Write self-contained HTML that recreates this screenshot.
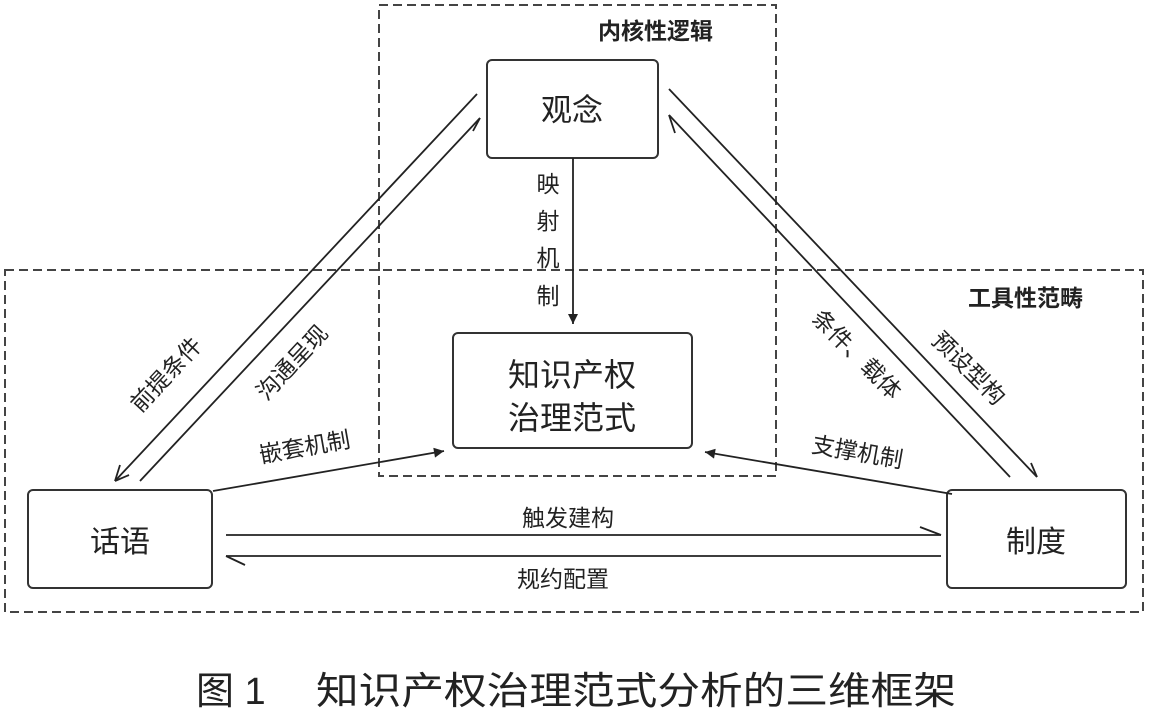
<!DOCTYPE html>
<html><head><meta charset="utf-8"><style>
html,body{margin:0;padding:0;background:#fff;}
svg text{font-family:"Liberation Sans","Noto Sans CJK SC",sans-serif;fill:#222;}
</style></head><body>
<svg width="1153" height="714" viewBox="0 0 1153 714" xmlns="http://www.w3.org/2000/svg">
<defs>
<marker id="fa" viewBox="0 0 10 10" refX="10" refY="5" markerWidth="14" markerHeight="10" markerUnits="userSpaceOnUse" orient="auto"><path d="M0,0 L10,5 L0,10 z" fill="#222"/></marker>
</defs>
<g fill="none" stroke="#444" stroke-width="2" stroke-dasharray="9,5">
<rect x="5" y="270" width="1138" height="342"/>
<rect x="379" y="5" width="397" height="471"/>
</g>
<text x="598" y="39" font-size="23" font-weight="bold">内核性逻辑</text>
<text x="968" y="306" font-size="23" font-weight="bold">工具性范畴</text>
<g fill="#fff" stroke="#333" stroke-width="2">
<rect x="487" y="60" width="171" height="98" rx="5"/>
<rect x="453" y="333" width="239" height="115" rx="5"/>
<rect x="28" y="490" width="184" height="98" rx="5"/>
<rect x="947" y="490" width="179" height="98" rx="5"/>
</g>
<text x="572" y="121" font-size="31" text-anchor="middle">观念</text>
<text x="572" y="386" font-size="32" text-anchor="middle">知识产权</text>
<text x="572" y="429" font-size="32" text-anchor="middle">治理范式</text>
<text x="120" y="552" font-size="30" text-anchor="middle">话语</text>
<text x="1036" y="552" font-size="30" text-anchor="middle">制度</text>
<g stroke="#222" stroke-width="1.8" fill="none">
<line x1="573" y1="158" x2="573" y2="324" marker-end="url(#fa)"/>
<line x1="213" y1="491" x2="444" y2="451" marker-end="url(#fa)"/>
<line x1="952" y1="494" x2="705" y2="452" marker-end="url(#fa)"/>
<line x1="477" y1="94" x2="115" y2="481"/>
<path d="M115,481 L120,465 M115,481 L129,475"/>
<line x1="140" y1="481" x2="480" y2="118"/>
<path d="M480,118 L473,131"/>
<line x1="669" y1="89" x2="1037" y2="477"/>
<path d="M1037,477 L1031,463"/>
<line x1="1010" y1="477" x2="669" y2="115"/>
<path d="M669,115 L675,133"/>
<line x1="226" y1="535" x2="941" y2="535"/>
<path d="M941,535 L920,527"/>
<line x1="941" y1="556" x2="226" y2="556"/>
<path d="M226,556 L245,565"/>
</g>
<g font-size="23">
<text x="548" y="192" text-anchor="middle">映</text>
<text x="548" y="229" text-anchor="middle">射</text>
<text x="548" y="266" text-anchor="middle">机</text>
<text x="548" y="304" text-anchor="middle">制</text>
<text transform="translate(172,380) rotate(-47)" text-anchor="middle">前提条件</text>
<text transform="translate(298,368) rotate(-47)" text-anchor="middle">沟通呈现</text>
<text transform="translate(851,360) rotate(45)" text-anchor="middle">条件、载体</text>
<text transform="translate(963,374) rotate(45)" text-anchor="middle">预设型构</text>
<text transform="translate(306,455) rotate(-10)" text-anchor="middle">嵌套机制</text>
<text transform="translate(856,460) rotate(10)" text-anchor="middle">支撑机制</text>
<text x="568" y="526" text-anchor="middle">触发建构</text>
<text x="563" y="587" text-anchor="middle">规约配置</text>
</g>
<text x="196" y="704" font-size="38">图 1</text>
<text x="316" y="704" font-size="38" textLength="640" lengthAdjust="spacingAndGlyphs">知识产权治理范式分析的三维框架</text>
</svg>
</body></html>
